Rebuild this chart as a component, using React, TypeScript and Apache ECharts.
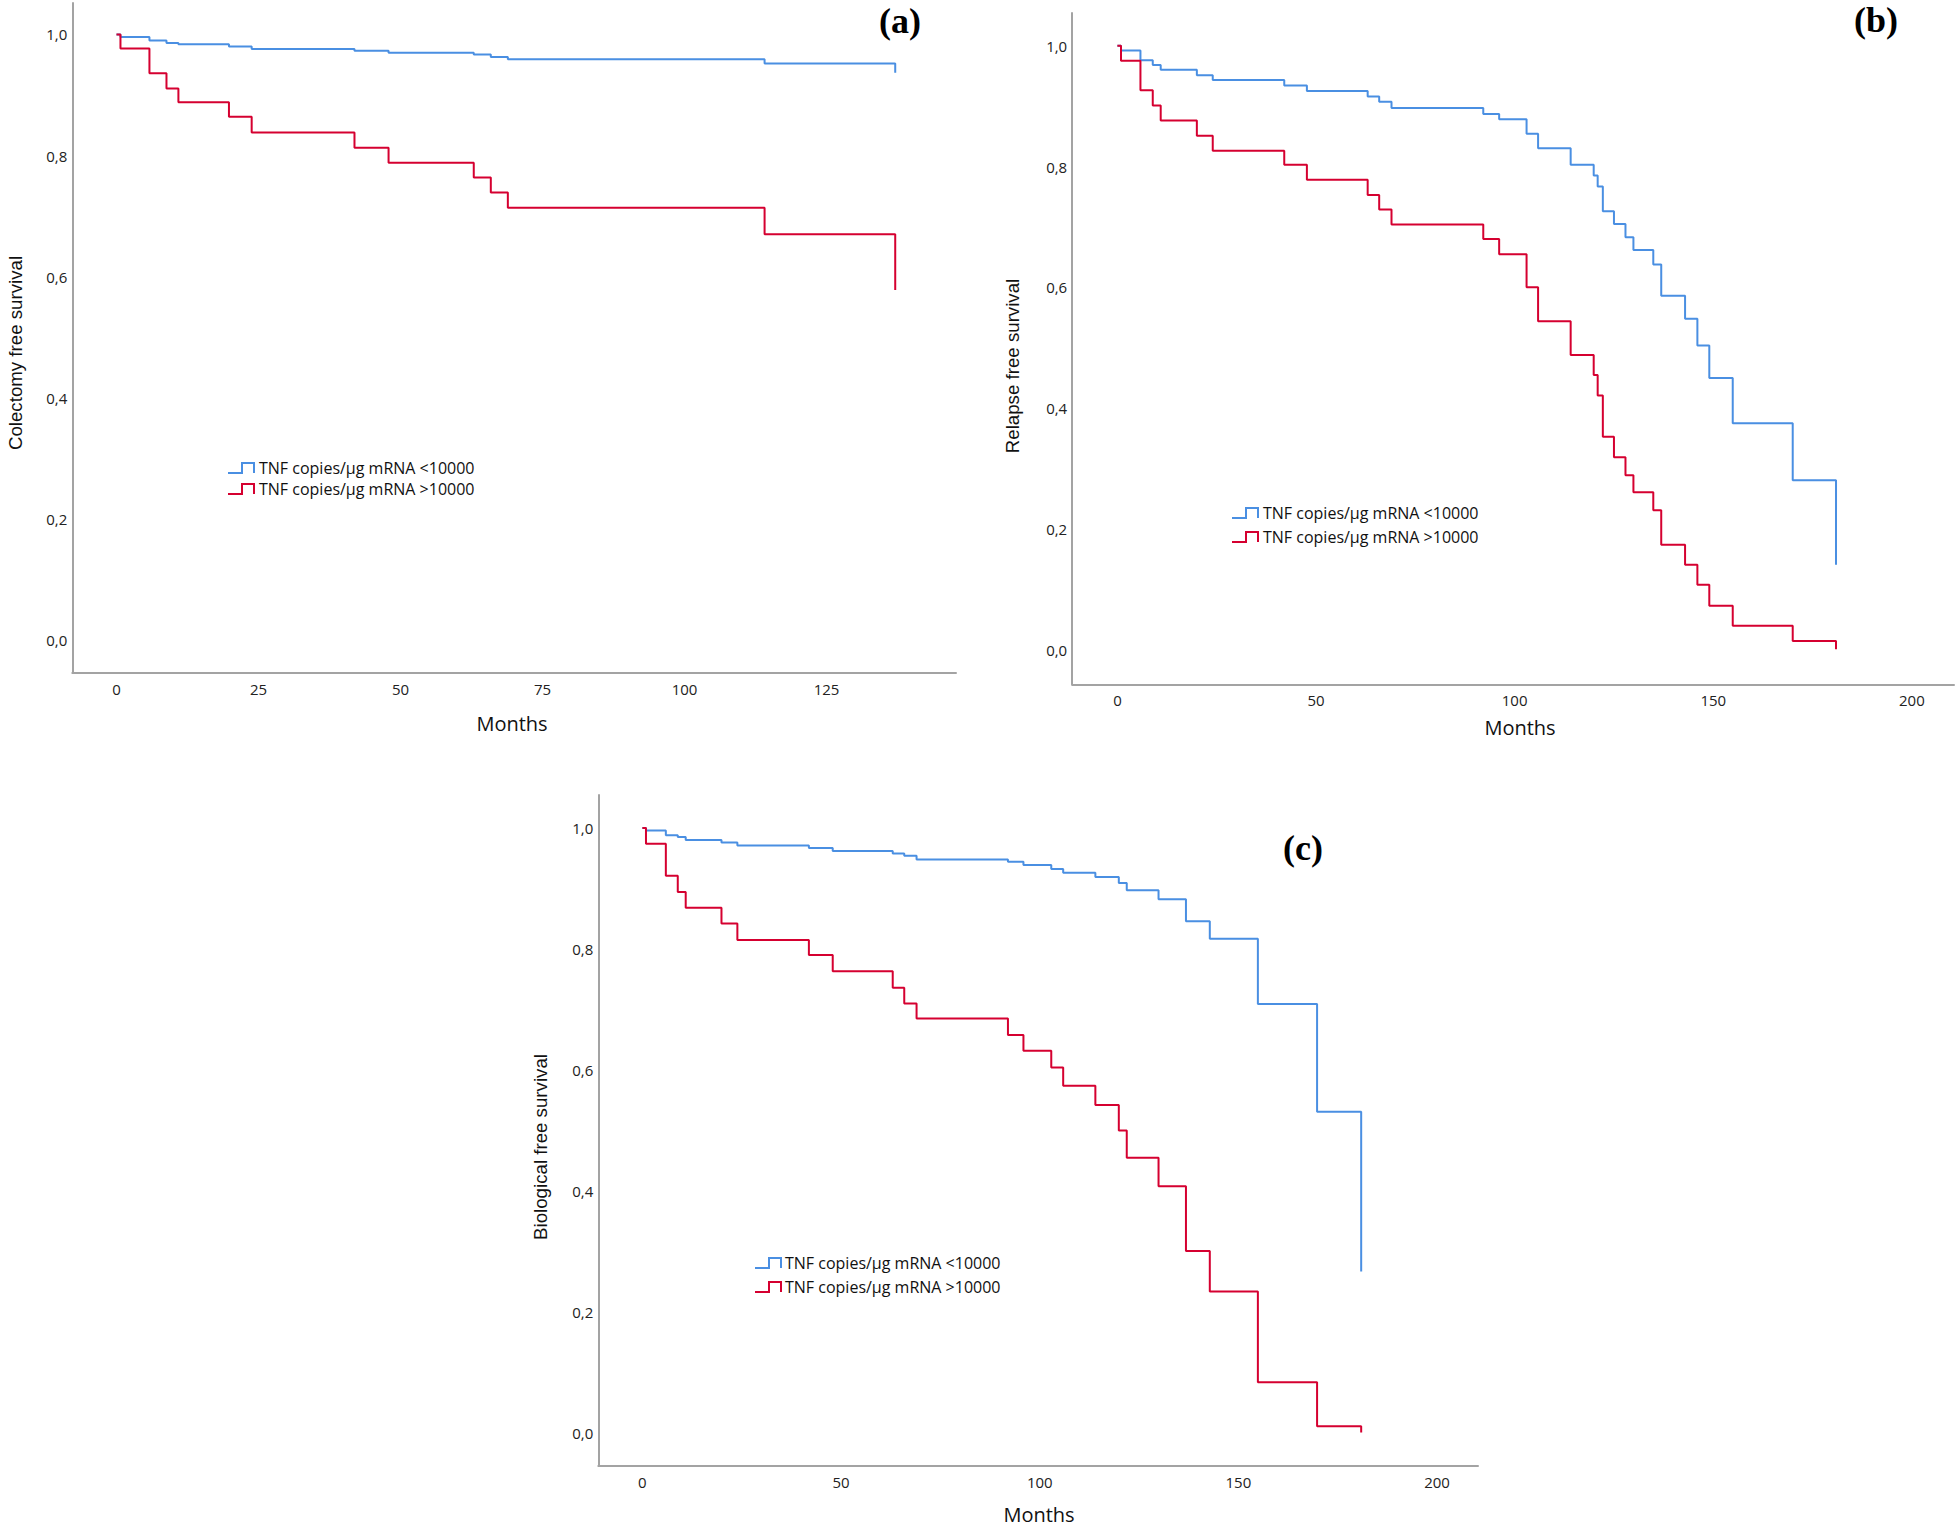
import React, { useEffect, useRef } from "react";
import * as echarts from "echarts";

// ---------- DATA ----------
const seriesNames = ["TNF copies/μg mRNA <10000", "TNF copies/μg mRNA >10000"];
const monthTicksA = [0, 25, 50, 75, 100, 125];
const monthTicksBC = [0, 50, 100, 150, 200];
const survivalTicks = [0, 0.2, 0.4, 0.6, 0.8, 1.0];

// (a) Colectomy free survival
const timesA = [0, 0.7, 5.8, 8.8, 10.9, 19.8, 23.8, 41.9, 47.9, 62.9, 65.9, 68.9, 114.1, 137.1];
const lowA = [1.0, 0.996, 0.99, 0.986, 0.984, 0.98, 0.976, 0.973, 0.97, 0.967, 0.963, 0.959, 0.952, 0.937];
const highA = [1.0, 0.977, 0.936, 0.911, 0.888, 0.864, 0.838, 0.813, 0.788, 0.764, 0.739, 0.714, 0.67, 0.578];

// (b) Relapse free survival
const timesB = [0, 0.9, 5.8, 8.9, 10.9, 20.0, 24.0, 42.0, 47.7, 63.0, 65.9, 69.0, 92.1, 96.1, 103.0, 105.9, 114.1, 119.9, 120.9, 122.2, 125.0, 127.9, 129.9, 134.9, 136.9, 142.9, 146.0, 149.0, 154.9, 170.0, 180.9];
const lowB = [1.0, 0.992, 0.976, 0.968, 0.96, 0.951, 0.943, 0.934, 0.925, 0.916, 0.907, 0.897, 0.887, 0.878, 0.854, 0.83, 0.803, 0.785, 0.767, 0.726, 0.705, 0.683, 0.662, 0.638, 0.586, 0.548, 0.504, 0.45, 0.375, 0.281, 0.141];
const highB = [1.0, 0.975, 0.926, 0.901, 0.876, 0.851, 0.826, 0.803, 0.778, 0.753, 0.729, 0.704, 0.68, 0.655, 0.6, 0.544, 0.488, 0.455, 0.421, 0.353, 0.319, 0.289, 0.261, 0.231, 0.174, 0.141, 0.108, 0.073, 0.04, 0.015, 0.001];

// (c) Biological free survival
const timesC = [0, 0.9, 5.9, 8.9, 10.9, 19.9, 23.9, 41.9, 47.9, 63.0, 65.9, 69.0, 92.0, 95.9, 102.9, 105.9, 114.0, 119.9, 121.9, 129.9, 136.8, 142.8, 154.9, 169.8, 180.9];
const lowC = [1.0, 0.996, 0.988, 0.985, 0.98, 0.976, 0.971, 0.967, 0.962, 0.958, 0.954, 0.948, 0.944, 0.939, 0.932, 0.926, 0.919, 0.909, 0.897, 0.882, 0.846, 0.817, 0.709, 0.531, 0.267];
const highC = [1.0, 0.974, 0.921, 0.894, 0.868, 0.842, 0.815, 0.79, 0.763, 0.736, 0.71, 0.685, 0.658, 0.632, 0.604, 0.574, 0.542, 0.5, 0.455, 0.408, 0.301, 0.234, 0.084, 0.011, 0.001];

const yTitles = ["Colectomy free survival", "Relapse free survival", "Biological free survival"];
const xTitle = "Months";
const panelLabels = ["(a)", "(b)", "(c)"];

// ---------- STYLE ----------
const BLUE = "#4a8fe2";
const RED = "#d50030";
const AXIS = "#a3a3a3";
const TICK_FONT = "'Open Sans', 'Noto Sans', sans-serif";

const zip = (t: number[], v: number[]) => t.map((x, i) => [x, v[i]]);
const fmt = (v: number) => v.toFixed(1).replace(".", ",");

export default function App() {
  const ref = useRef<HTMLDivElement>(null);
  useEffect(() => {
    if (!ref.current) return;
    const chart = echarts.init(ref.current, null, { renderer: "svg" });

    const grids = [
      { left: 72.3, top: 3, width: 956 - 72.3, height: 673 - 3 },
      { left: 1072.2, top: 13, width: 1954 - 1072.2, height: 684.3 - 13 },
      { left: 598.3, top: 795, width: 1478 - 598.3, height: 1466 - 795 },
    ];
    const xRanges = [
      [-7.78, 147.8],
      [-11.38, 210.6],
      [-11.1, 210.3],
    ];
    const yRanges = [
      [-0.0545, 1.052],
      [-0.0568, 1.054],
      [-0.0545, 1.0545],
    ];
    const xTicks = [monthTicksA, monthTicksBC, monthTicksBC];

    const xAxis = grids.map((_, i) => ({
      type: "value",
      gridIndex: i,
      min: xRanges[i][0],
      max: xRanges[i][1],
      axisLine: { show: true, onZero: false, lineStyle: { color: AXIS, width: 2 } },
      axisTick: { show: false },
      splitLine: { show: false },
      axisLabel: {
        customValues: xTicks[i],
        margin: 8,
        fontSize: 15,
        fontFamily: TICK_FONT,
        color: "#222",
        formatter: (v: number) => String(v),
      },
    }));
    const yAxis = grids.map((_, i) => ({
      type: "value",
      gridIndex: i,
      min: yRanges[i][0],
      max: yRanges[i][1],
      axisLine: { show: true, onZero: false, lineStyle: { color: AXIS, width: 2 } },
      axisTick: { show: false },
      splitLine: { show: false },
      axisLabel: {
        customValues: survivalTicks,
        margin: 5,
        fontSize: 15,
        fontFamily: TICK_FONT,
        color: "#222",
        formatter: (v: number) => fmt(v),
      },
    }));

    const panels = [
      [timesA, lowA, highA],
      [timesB, lowB, highB],
      [timesC, lowC, highC],
    ];
    const series: any[] = [];
    panels.forEach(([t, lo, hi], i) => {
      [lo, hi].forEach((vals, k) => {
        series.push({
          type: "line",
          name: seriesNames[k],
          xAxisIndex: i,
          yAxisIndex: i,
          step: "end",
          symbol: "none",
          data: zip(t as number[], vals as number[]),
          lineStyle: { color: k === 0 ? BLUE : RED, width: 2 },
          itemStyle: { color: k === 0 ? BLUE : RED },
        });
      });
    });

    // legend positions (symbol left x, text x, blue text y, red text y)
    const legends = [
      { x0: 228, text: 259, y: [468, 489] },
      { x0: 1232, text: 1263, y: [513, 537] },
      { x0: 755, text: 785, y: [1263, 1287] },
    ];
    const graphic: any[] = [];
    legends.forEach((L) => {
      [0, 1].forEach((k) => {
        const yLow = L.y[k] + 5;
        const yHigh = L.y[k] - 5;
        graphic.push({
          type: "polyline",
          shape: {
            points: [
              [L.x0, yLow],
              [L.x0 + 14, yLow],
              [L.x0 + 14, yHigh],
              [L.x0 + 26, yHigh],
              [L.x0 + 26, yLow],
            ],
          },
          style: { stroke: k === 0 ? BLUE : RED, lineWidth: 2, fill: null },
        });
        graphic.push({
          type: "text",
          x: L.text,
          y: L.y[k],
          style: {
            text: seriesNames[k],
            fontSize: 16,
            fontFamily: TICK_FONT,
            fill: "#111",
            align: "left",
            verticalAlign: "middle",
          },
        });
      });
    });

    const yTitlePos = [
      [15, 353],
      [1012, 366],
      [540, 1147],
    ];
    yTitlePos.forEach(([x, y], i) => {
      graphic.push({
        type: "text",
        x,
        y,
        rotation: Math.PI / 2,
        style: {
          text: yTitles[i],
          fontSize: 18.7,
          fontFamily: "'Liberation Sans', Arial, sans-serif",
          fill: "#111",
          align: "center",
          verticalAlign: "middle",
        },
      });
    });
    const xTitlePos = [
      [512, 723],
      [1520, 727],
      [1039, 1514],
    ];
    xTitlePos.forEach(([x, y]) => {
      graphic.push({
        type: "text",
        x,
        y,
        style: {
          text: xTitle,
          fontSize: 20,
          fontFamily: TICK_FONT,
          fill: "#111",
          align: "center",
          verticalAlign: "middle",
        },
      });
    });
    const labelPos = [
      [900, 21],
      [1876, 20],
      [1303, 848],
    ];
    labelPos.forEach(([x, y], i) => {
      graphic.push({
        type: "text",
        x,
        y,
        style: {
          text: panelLabels[i],
          fontSize: 36,
          fontWeight: "bold",
          fontFamily: "'Liberation Serif', 'Times New Roman', serif",
          fill: "#000",
          align: "center",
          verticalAlign: "middle",
        },
      });
    });

    chart.setOption({
      animation: false,
      backgroundColor: "#ffffff",
      grid: grids,
      xAxis,
      yAxis,
      series,
      graphic,
    });
    return () => chart.dispose();
  }, []);

  return (
    <div
      ref={ref}
      style={{ position: "absolute", left: 0, top: 0, width: 1959, height: 1528, background: "#fff" }}
    />
  );
}
